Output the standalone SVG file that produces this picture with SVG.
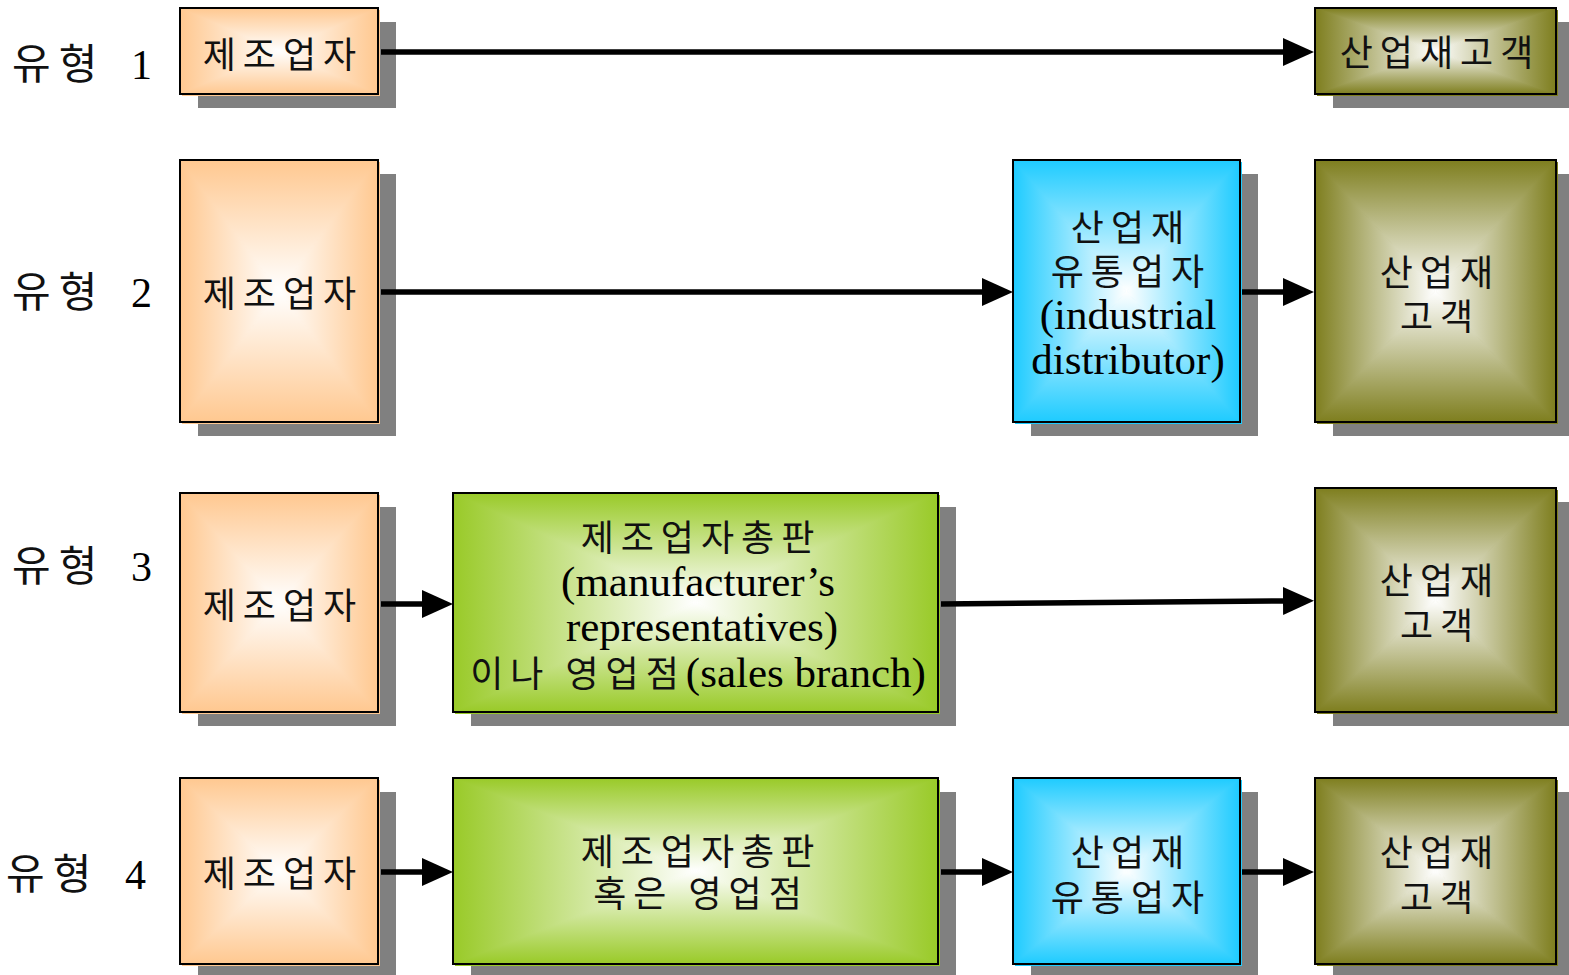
<svg xmlns="http://www.w3.org/2000/svg" xmlns:xlink="http://www.w3.org/1999/xlink" width="1569" height="975" viewBox="0 0 1569 975">
<style>
.sh{fill:#808080}
.bd{fill:none;stroke:#000;stroke-width:2}
.ko{font-family:"Noto Sans CJK KR","Noto Sans",sans-serif;font-size:36px;letter-spacing:7px;fill:#111;text-anchor:middle}
.en{font-family:"Liberation Serif","Times New Roman",serif;font-size:43px;letter-spacing:0;fill:#000}
.lab{font-family:"Noto Sans CJK KR","Noto Sans",sans-serif;font-size:42px;letter-spacing:8px;fill:#111}
.num{font-family:"Liberation Serif",serif;font-size:42px;letter-spacing:0;fill:#000}
.ln{stroke:#000;stroke-width:5.5;fill:none;marker-end:url(#ah)}
.tri{vector-effect:non-scaling-stroke;stroke-width:1}
</style>
<defs>
<marker id="ah" markerUnits="userSpaceOnUse" markerWidth="31" markerHeight="28" refX="0" refY="14" orient="auto" viewBox="0 0 31 28">
<path d="M0,0 L31,14 L0,28 Z" fill="#000"/>
</marker>
<linearGradient id="o-t" x1="0" y1="0" x2="0" y2="1"><stop offset="0" stop-color="#FFC890"/><stop offset="1" stop-color="#fff"/></linearGradient>
<linearGradient id="o-b" x1="0" y1="1" x2="0" y2="0"><stop offset="0" stop-color="#FFC890"/><stop offset="1" stop-color="#fff"/></linearGradient>
<linearGradient id="o-l" x1="0" y1="0" x2="1" y2="0"><stop offset="0" stop-color="#FFC890"/><stop offset="1" stop-color="#fff"/></linearGradient>
<linearGradient id="o-r" x1="1" y1="0" x2="0" y2="0"><stop offset="0" stop-color="#FFC890"/><stop offset="1" stop-color="#fff"/></linearGradient>
<linearGradient id="b-t" x1="0" y1="0" x2="0" y2="1"><stop offset="0" stop-color="#1ECBFF"/><stop offset="1" stop-color="#fff"/></linearGradient>
<linearGradient id="b-b" x1="0" y1="1" x2="0" y2="0"><stop offset="0" stop-color="#1ECBFF"/><stop offset="1" stop-color="#fff"/></linearGradient>
<linearGradient id="b-l" x1="0" y1="0" x2="1" y2="0"><stop offset="0" stop-color="#1ECBFF"/><stop offset="1" stop-color="#fff"/></linearGradient>
<linearGradient id="b-r" x1="1" y1="0" x2="0" y2="0"><stop offset="0" stop-color="#1ECBFF"/><stop offset="1" stop-color="#fff"/></linearGradient>
<linearGradient id="g-t" x1="0" y1="0" x2="0" y2="1"><stop offset="0" stop-color="#99CA28"/><stop offset="1" stop-color="#fff"/></linearGradient>
<linearGradient id="g-b" x1="0" y1="1" x2="0" y2="0"><stop offset="0" stop-color="#99CA28"/><stop offset="1" stop-color="#fff"/></linearGradient>
<linearGradient id="g-l" x1="0" y1="0" x2="1" y2="0"><stop offset="0" stop-color="#99CA28"/><stop offset="1" stop-color="#fff"/></linearGradient>
<linearGradient id="g-r" x1="1" y1="0" x2="0" y2="0"><stop offset="0" stop-color="#99CA28"/><stop offset="1" stop-color="#fff"/></linearGradient>
<linearGradient id="v-t" x1="0" y1="0" x2="0" y2="1"><stop offset="0" stop-color="#7E7E1E"/><stop offset="1" stop-color="#fff"/></linearGradient>
<linearGradient id="v-b" x1="0" y1="1" x2="0" y2="0"><stop offset="0" stop-color="#7E7E1E"/><stop offset="1" stop-color="#fff"/></linearGradient>
<linearGradient id="v-l" x1="0" y1="0" x2="1" y2="0"><stop offset="0" stop-color="#7E7E1E"/><stop offset="1" stop-color="#fff"/></linearGradient>
<linearGradient id="v-r" x1="1" y1="0" x2="0" y2="0"><stop offset="0" stop-color="#7E7E1E"/><stop offset="1" stop-color="#fff"/></linearGradient>
<g id="fo">
<polygon class="tri" points="0,0 1,0 .5,.5" fill="url(#o-t)" stroke="url(#o-t)"/>
<polygon class="tri" points="0,1 1,1 .5,.5" fill="url(#o-b)" stroke="url(#o-b)"/>
<polygon class="tri" points="0,0 0,1 .5,.5" fill="url(#o-l)" stroke="url(#o-l)"/>
<polygon class="tri" points="1,0 1,1 .5,.5" fill="url(#o-r)" stroke="url(#o-r)"/>
</g>
<g id="fb">
<polygon class="tri" points="0,0 1,0 .5,.5" fill="url(#b-t)" stroke="url(#b-t)"/>
<polygon class="tri" points="0,1 1,1 .5,.5" fill="url(#b-b)" stroke="url(#b-b)"/>
<polygon class="tri" points="0,0 0,1 .5,.5" fill="url(#b-l)" stroke="url(#b-l)"/>
<polygon class="tri" points="1,0 1,1 .5,.5" fill="url(#b-r)" stroke="url(#b-r)"/>
</g>
<g id="fg">
<polygon class="tri" points="0,0 1,0 .5,.5" fill="url(#g-t)" stroke="url(#g-t)"/>
<polygon class="tri" points="0,1 1,1 .5,.5" fill="url(#g-b)" stroke="url(#g-b)"/>
<polygon class="tri" points="0,0 0,1 .5,.5" fill="url(#g-l)" stroke="url(#g-l)"/>
<polygon class="tri" points="1,0 1,1 .5,.5" fill="url(#g-r)" stroke="url(#g-r)"/>
</g>
<g id="fv">
<polygon class="tri" points="0,0 1,0 .5,.5" fill="url(#v-t)" stroke="url(#v-t)"/>
<polygon class="tri" points="0,1 1,1 .5,.5" fill="url(#v-b)" stroke="url(#v-b)"/>
<polygon class="tri" points="0,0 0,1 .5,.5" fill="url(#v-l)" stroke="url(#v-l)"/>
<polygon class="tri" points="1,0 1,1 .5,.5" fill="url(#v-r)" stroke="url(#v-r)"/>
</g>
</defs>
<rect width="1569" height="975" fill="#fff"/>

<g id="labels">
<text x="12" y="79"><tspan class="lab">유형</tspan><tspan class="num" x="131">1</tspan></text>
<text x="12" y="307"><tspan class="lab">유형</tspan><tspan class="num" x="131">2</tspan></text>
<text x="12" y="581"><tspan class="lab">유형</tspan><tspan class="num" x="131">3</tspan></text>
<text x="6" y="889"><tspan class="lab">유형</tspan><tspan class="num" x="125">4</tspan></text>
</g>

<!-- Row 1 -->
<g id="n1-maker">
<rect class="sh" x="198" y="22" width="198" height="86"/>
<rect x="182" y="10" width="198" height="86" fill="#FFC890"/>
<use xlink:href="#fo" transform="translate(180,8) scale(198,86)"/>
<rect class="bd" x="180" y="8" width="198" height="86"/>
<text class="ko" x="283" y="68">제조업자</text>
</g>
<g id="n1-customer">
<rect class="sh" x="1333" y="22" width="241" height="86"/>
<rect x="1317" y="10" width="241" height="86" fill="#7E7E1E"/>
<use xlink:href="#fv" transform="translate(1315,8) scale(241,86)"/>
<rect class="bd" x="1315" y="8" width="241" height="86"/>
<text class="ko" x="1440" y="66">산업재고객</text>
</g>

<!-- Row 2 -->
<g id="n2-maker">
<rect class="sh" x="198" y="174" width="198" height="262"/>
<rect x="182" y="162" width="198" height="262" fill="#FFC890"/>
<use xlink:href="#fo" transform="translate(180,160) scale(198,262)"/>
<rect class="bd" x="180" y="160" width="198" height="262"/>
<text class="ko" x="283" y="307">제조업자</text>
</g>
<g id="n2-distributor">
<rect class="sh" x="1031" y="174" width="227" height="262"/>
<rect x="1015" y="162" width="227" height="262" fill="#1ECBFF"/>
<use xlink:href="#fb" transform="translate(1013,160) scale(227,262)"/>
<rect class="bd" x="1013" y="160" width="227" height="262"/>
<text class="ko" x="1131" y="241">산업재</text>
<text class="ko" x="1131" y="285">유통업자</text>
<text class="en" x="1128" y="329" text-anchor="middle">(industrial</text>
<text class="en" x="1128" y="374" text-anchor="middle">distributor)</text>
</g>
<g id="n2-customer">
<rect class="sh" x="1333" y="174" width="241" height="262"/>
<rect x="1317" y="162" width="241" height="262" fill="#7E7E1E"/>
<use xlink:href="#fv" transform="translate(1315,160) scale(241,262)"/>
<rect class="bd" x="1315" y="160" width="241" height="262"/>
<text class="ko" x="1440" y="286">산업재</text>
<text class="ko" x="1440" y="330">고객</text>
</g>

<!-- Row 3 -->
<g id="n3-maker">
<rect class="sh" x="198" y="507" width="198" height="219"/>
<rect x="182" y="495" width="198" height="219" fill="#FFC890"/>
<use xlink:href="#fo" transform="translate(180,493) scale(198,219)"/>
<rect class="bd" x="180" y="493" width="198" height="219"/>
<text class="ko" x="283" y="619">제조업자</text>
</g>
<g id="n3-rep">
<rect class="sh" x="471" y="507" width="485" height="219"/>
<rect x="455" y="495" width="485" height="219" fill="#99CA28"/>
<use xlink:href="#fg" transform="translate(453,493) scale(485,219)"/>
<rect class="bd" x="453" y="493" width="485" height="219"/>
<text class="ko" x="701" y="551">제조업자총판</text>
<text class="en" x="698" y="596" text-anchor="middle">(manufacturer’s</text>
<text class="en" x="702" y="641" text-anchor="middle">representatives)</text>
<text class="ko" x="698" y="687"><tspan>이나 영업점</tspan><tspan class="en">(sales branch)</tspan></text>
</g>
<g id="n3-customer">
<rect class="sh" x="1333" y="502" width="241" height="224"/>
<rect x="1317" y="490" width="241" height="224" fill="#7E7E1E"/>
<use xlink:href="#fv" transform="translate(1315,488) scale(241,224)"/>
<rect class="bd" x="1315" y="488" width="241" height="224"/>
<text class="ko" x="1440" y="594">산업재</text>
<text class="ko" x="1440" y="639">고객</text>
</g>

<!-- Row 4 -->
<g id="n4-maker">
<rect class="sh" x="198" y="792" width="198" height="186"/>
<rect x="182" y="780" width="198" height="186" fill="#FFC890"/>
<use xlink:href="#fo" transform="translate(180,778) scale(198,186)"/>
<rect class="bd" x="180" y="778" width="198" height="186"/>
<text class="ko" x="283" y="887">제조업자</text>
</g>
<g id="n4-rep">
<rect class="sh" x="471" y="792" width="485" height="186"/>
<rect x="455" y="780" width="485" height="186" fill="#99CA28"/>
<use xlink:href="#fg" transform="translate(453,778) scale(485,186)"/>
<rect class="bd" x="453" y="778" width="485" height="186"/>
<text class="ko" x="701" y="865">제조업자총판</text>
<text class="ko" x="701" y="907">혹은 영업점</text>
</g>
<g id="n4-distributor">
<rect class="sh" x="1031" y="792" width="227" height="186"/>
<rect x="1015" y="780" width="227" height="186" fill="#1ECBFF"/>
<use xlink:href="#fb" transform="translate(1013,778) scale(227,186)"/>
<rect class="bd" x="1013" y="778" width="227" height="186"/>
<text class="ko" x="1131" y="866">산업재</text>
<text class="ko" x="1131" y="911">유통업자</text>
</g>
<g id="n4-customer">
<rect class="sh" x="1333" y="792" width="241" height="186"/>
<rect x="1317" y="780" width="241" height="186" fill="#7E7E1E"/>
<use xlink:href="#fv" transform="translate(1315,778) scale(241,186)"/>
<rect class="bd" x="1315" y="778" width="241" height="186"/>
<text class="ko" x="1440" y="866">산업재</text>
<text class="ko" x="1440" y="911">고객</text>
</g>

<g id="connectors">
<line class="ln" x1="381" y1="52" x2="1283" y2="52"/>
<line class="ln" x1="381" y1="292" x2="982" y2="292"/>
<line class="ln" x1="1242" y1="292" x2="1283" y2="292"/>
<line class="ln" x1="381" y1="604" x2="422" y2="604"/>
<line class="ln" x1="941" y1="604" x2="1283" y2="601"/>
<line class="ln" x1="381" y1="872" x2="422" y2="872"/>
<line class="ln" x1="941" y1="872" x2="982" y2="872"/>
<line class="ln" x1="1242" y1="872" x2="1283" y2="872"/>
</g>
</svg>
